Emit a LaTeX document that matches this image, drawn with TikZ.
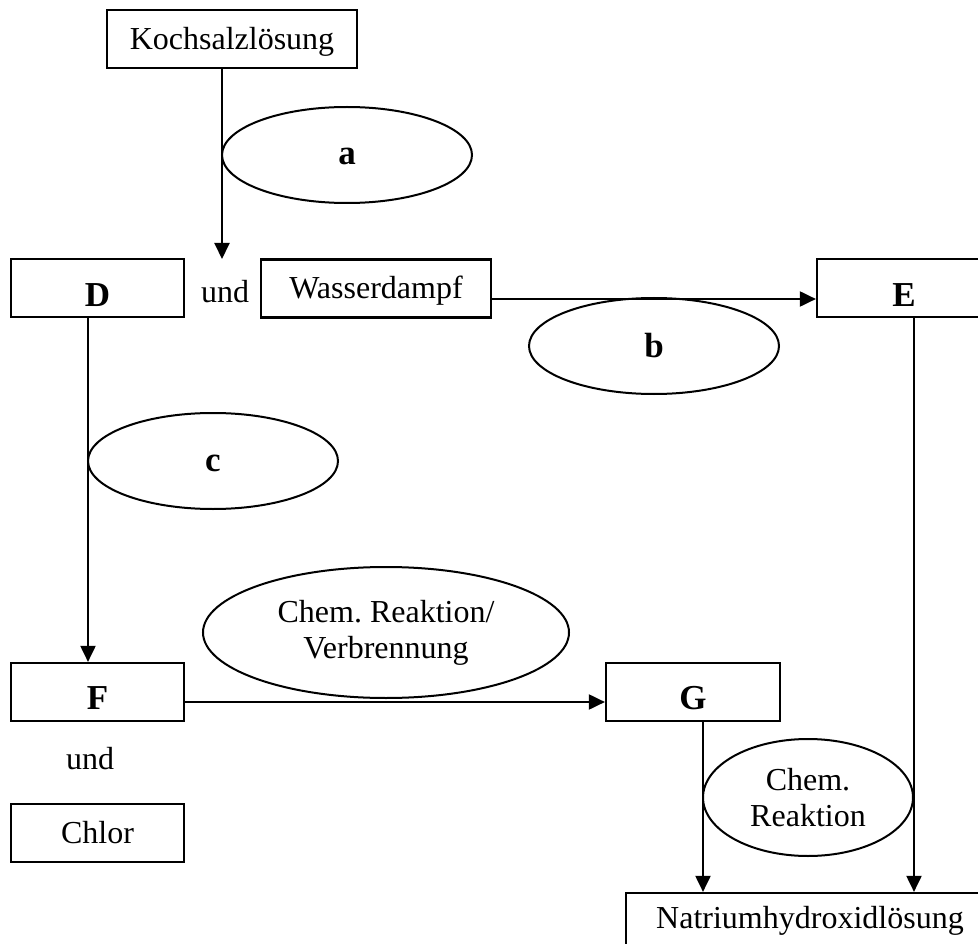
\documentclass[tikz,border=0pt]{standalone}
\usepackage{fontspec}
\setmainfont{Liberation Serif}
\usetikzlibrary{shapes.geometric,arrows.meta}
\frenchspacing
\begin{document}
\begin{tikzpicture}[x=1pt,y=-1pt,
  every node/.style={font=\fontsize{32}{36}\selectfont},
  big/.style={font=\fontsize{35}{40}\selectfont\bfseries},
  box/.style={draw, rectangle, line width=2.2pt, inner sep=0pt, minimum height=58pt, text depth=0pt},
  ell/.style={draw, ellipse, line width=2pt, inner sep=0pt, minimum width=250pt, minimum height=96pt, text height=20pt, text depth=0pt, big},
  ellt/.style={draw, ellipse, line width=2pt, inner sep=0pt, align=center},
  arr/.style={line width=2pt, -{Triangle[width=15pt,length=16pt]}}]
\useasboundingbox (0,0) rectangle (978,944);
\fill[white] (0,0) rectangle (978,944);
\clip (0,0) rectangle (978,944);
% boxes
\node[box, minimum width=250pt, text height=22pt] (koch) at (232,39) {Kochsalzlösung};
\node[box, big, minimum width=173pt, text height=36pt] (D) at (97.5,288) {D};
\node[box, minimum width=230pt, text height=20pt] (wasser) at (376,288.5) {Wasserdampf};
\node[box, big, minimum width=174pt, text height=36pt] (E) at (904,288) {E};
\node[box, big, minimum width=173pt, text height=35pt] (F) at (97.5,692) {F};
\node[box, minimum width=173pt, text height=20pt] (chlor) at (97.5,833) {Chlor};
\node[box, big, minimum width=174pt, text height=35pt] (G) at (693,692) {G};
\node[box, minimum width=368pt, text height=12pt] (natr) at (810,922) {Natriumhydroxidlösung};
% texts
\node[anchor=base, inner sep=0pt] (und1) at (225,302) {und};
\node[anchor=base, inner sep=0pt] (und2) at (90,769) {und};
% connectors
\coordinate (ktip) at (222,259);
\draw[arr] (koch.south -| ktip) -- (ktip);
\draw[arr] (wasser.east |- 0,299) -- (E.west |- 0,299);
\draw[arr] (D.south -| 88,0) -- (F.north -| 88,0);
\draw[arr] (F.east |- 0,702) -- (G.west |- 0,702);
\draw[arr] (G.south -| 703,0) -- (natr.north -| 703,0);
\draw[arr] (E.south -| 914,0) -- (natr.north -| 914,0);
% ellipses
\node[ell] (ea) at (347,155) {a};
\node[ell, text height=22pt] (eb) at (654,346) {b};
\node[ell] (ec) at (213,461) {c};
\node[ellt, minimum width=366pt, minimum height=131pt] (ev) at (386,632.5) {Chem. Reaktion/\\Verbrennung};
\node[ellt, minimum width=210pt, minimum height=117pt] (er) at (808,797.5) {Chem.\\Reaktion};
\end{tikzpicture}
\end{document}
